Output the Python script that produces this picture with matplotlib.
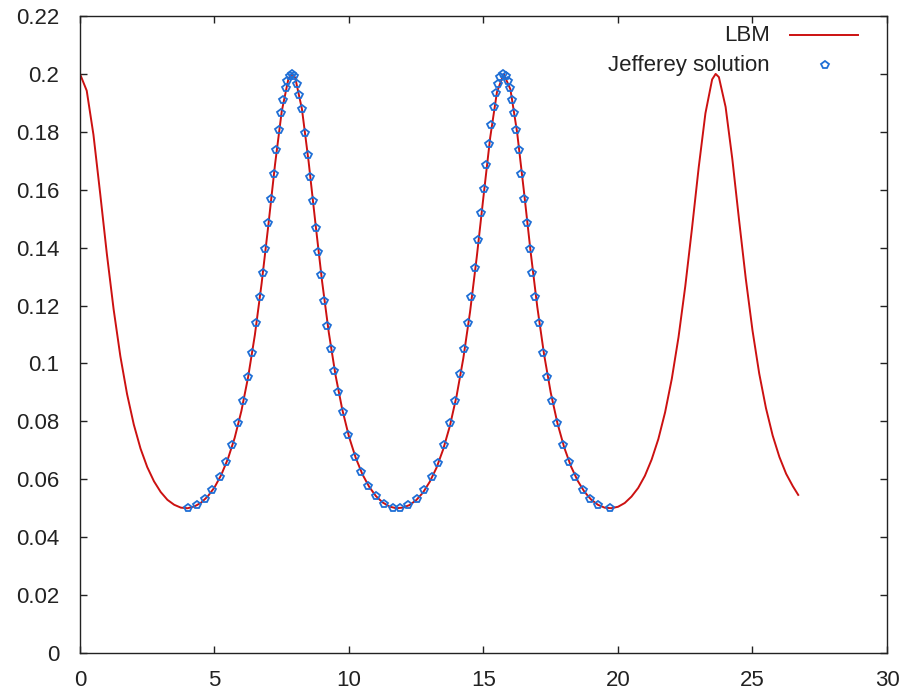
import matplotlib
matplotlib.use('Agg')
import matplotlib.pyplot as plt
from matplotlib.ticker import FuncFormatter

plt.rcParams['font.family'] = ['Liberation Sans', 'DejaVu Sans']

## LBM curve
lbm_x = [0.00, 0.25, 0.50, 0.75, 1.00, 1.25, 1.50, 1.75, 2.00, 2.25,
         2.50, 2.75, 3.00, 3.25, 3.50, 3.75, 4.00, 4.25, 4.50, 4.75,
         5.00, 5.25, 5.50, 5.75, 6.00, 6.25, 6.50, 6.75, 7.00, 7.25,
         7.50, 7.75, 7.88, 8.00, 8.25, 8.50, 8.75, 9.00, 9.25, 9.50,
         9.75, 10.00, 10.25, 10.50, 10.75, 11.00, 11.25, 11.50, 11.75, 12.00,
         12.25, 12.50, 12.75, 13.00, 13.25, 13.50, 13.75, 14.00, 14.25, 14.50,
         14.75, 15.00, 15.25, 15.50, 15.75, 16.00, 16.25, 16.50, 16.75, 17.00,
         17.25, 17.50, 17.75, 18.00, 18.25, 18.50, 18.75, 19.00, 19.25, 19.50,
         19.75, 20.00, 20.25, 20.50, 20.75, 21.00, 21.25, 21.50, 21.75, 22.00,
         22.25, 22.50, 22.75, 23.00, 23.25, 23.50, 23.63, 23.75, 24.00, 24.25,
         24.50, 24.75, 25.00, 25.25, 25.50, 25.75, 26.00, 26.25, 26.50, 26.70]
lbm_y = [0.2000, 0.1942, 0.1790, 0.1587, 0.1377, 0.1187, 0.1025, 0.0894, 0.0789, 0.0706,
         0.0642, 0.0593, 0.0556, 0.0529, 0.0512, 0.0502, 0.0500, 0.0506, 0.0519, 0.0541,
         0.0572, 0.0615, 0.0671, 0.0743, 0.0836, 0.0953, 0.1098, 0.1275, 0.1476, 0.1687,
         0.1871, 0.1984, 0.2000, 0.1987, 0.1879, 0.1696, 0.1486, 0.1283, 0.1106, 0.0959,
         0.0841, 0.0747, 0.0674, 0.0617, 0.0574, 0.0542, 0.0520, 0.0506, 0.0500, 0.0502,
         0.0511, 0.0528, 0.0554, 0.0591, 0.0639, 0.0703, 0.0784, 0.0888, 0.1018, 0.1178,
         0.1368, 0.1577, 0.1781, 0.1937, 0.2000, 0.1947, 0.1798, 0.1597, 0.1387, 0.1195,
         0.1032, 0.0899, 0.0793, 0.0710, 0.0645, 0.0595, 0.0557, 0.0530, 0.0512, 0.0502,
         0.0500, 0.0505, 0.0518, 0.0540, 0.0570, 0.0612, 0.0668, 0.0739, 0.0831, 0.0947,
         0.1091, 0.1266, 0.1466, 0.1677, 0.1864, 0.1981, 0.2000, 0.1989, 0.1886, 0.1706,
         0.1496, 0.1293, 0.1114, 0.0965, 0.0846, 0.0751, 0.0677, 0.0619, 0.0576, 0.0546]

## Jefferey solution points
jeff_x = [4.01, 4.36, 4.64, 4.92, 5.20, 5.44, 5.66, 5.89, 6.07, 6.24,
          6.39, 6.55, 6.68, 6.79, 6.89, 7.00, 7.10, 7.20, 7.30, 7.39,
          7.48, 7.56, 7.64, 7.71, 7.79, 7.87, 7.96, 8.06, 8.15, 8.24,
          8.36, 8.46, 8.55, 8.65, 8.76, 8.86, 8.96, 9.08, 9.20, 9.33,
          9.46, 9.60, 9.76, 9.97, 10.22, 10.45, 10.72, 11.00, 11.30, 11.62,
          11.90, 12.21, 12.52, 12.79, 13.07, 13.30, 13.53, 13.75, 13.94, 14.13,
          14.28, 14.42, 14.55, 14.68, 14.80, 14.91, 15.01, 15.11, 15.20, 15.29,
          15.38, 15.47, 15.55, 15.63, 15.72, 15.82, 15.90, 15.97, 16.05, 16.13,
          16.22, 16.31, 16.41, 16.51, 16.61, 16.72, 16.82, 16.93, 17.06, 17.22,
          17.37, 17.54, 17.72, 17.95, 18.17, 18.41, 18.69, 18.97, 19.25, 19.70]
jeff_y = [0.0500, 0.0511, 0.0531, 0.0562, 0.0607, 0.0658, 0.0718, 0.0796, 0.0871, 0.0953,
          0.1037, 0.1139, 0.1229, 0.1314, 0.1394, 0.1484, 0.1569, 0.1655, 0.1737, 0.1805,
          0.1866, 0.1911, 0.1950, 0.1976, 0.1994, 0.2000, 0.1992, 0.1966, 0.1928, 0.1878,
          0.1797, 0.1719, 0.1645, 0.1562, 0.1467, 0.1386, 0.1306, 0.1215, 0.1131, 0.1049,
          0.0975, 0.0903, 0.0831, 0.0754, 0.0678, 0.0625, 0.0577, 0.0541, 0.0516, 0.0502,
          0.0500, 0.0510, 0.0532, 0.0562, 0.0607, 0.0656, 0.0718, 0.0793, 0.0871, 0.0963,
          0.1049, 0.1139, 0.1229, 0.1330, 0.1427, 0.1519, 0.1603, 0.1687, 0.1759, 0.1825,
          0.1885, 0.1933, 0.1966, 0.1989, 0.2000, 0.1994, 0.1976, 0.1950, 0.1911, 0.1866,
          0.1805, 0.1737, 0.1655, 0.1569, 0.1484, 0.1394, 0.1314, 0.1229, 0.1139, 0.1037,
          0.0953, 0.0871, 0.0796, 0.0718, 0.0658, 0.0607, 0.0562, 0.0531, 0.0511, 0.0500]

x_ticks = [0, 5, 10, 15, 20, 25, 30]
y_ticks = [0, 0.02, 0.04, 0.06, 0.08, 0.1, 0.12, 0.14, 0.16, 0.18, 0.2, 0.22]

red = '#cc1111'
blue = '#1f6fd6'

fig = plt.figure(figsize=(9.04, 6.96), dpi=100)
ax = fig.add_axes([80 / 904, 43 / 696, 807 / 904, 637 / 696])

ax.plot(lbm_x, lbm_y, color=red, linewidth=1.4)
ax.plot(jeff_x, jeff_y, linestyle='none', marker='p', markersize=6,
        markerfacecolor='none', markeredgecolor=blue, markeredgewidth=1.3)

ax.set_xlim(0, 30)
ax.set_ylim(0, 0.22)
ax.set_xticks(x_ticks)
ax.set_yticks(y_ticks)
ax.yaxis.set_major_formatter(FuncFormatter(lambda v, p: '%g' % v))

ax.tick_params(axis='both', direction='in', length=5, width=1,
               top=True, right=True, labelsize=16, colors='#222222')
ax.tick_params(axis='x', pad=12)
ax.tick_params(axis='y', pad=15)
for s in ax.spines.values():
    s.set_linewidth(1)
    s.set_color('#222222')

## gnuplot style key: text right aligned, sample on the right
ax.text(0.855, 0.970, 'LBM', transform=ax.transAxes, ha='right', va='center',
        fontsize=16, color='#222222')
ax.plot([0.880, 0.964], [0.970, 0.970], transform=ax.transAxes,
        color=red, linewidth=1.4, clip_on=False)
ax.text(0.855, 0.923, 'Jefferey solution', transform=ax.transAxes, ha='right',
        va='center', fontsize=16, color='#222222')
ax.plot([0.923], [0.923], transform=ax.transAxes, marker='p', markersize=6,
        markerfacecolor='none', markeredgecolor=blue, markeredgewidth=1.3,
        clip_on=False)

fig.savefig('out.png', dpi=100)
